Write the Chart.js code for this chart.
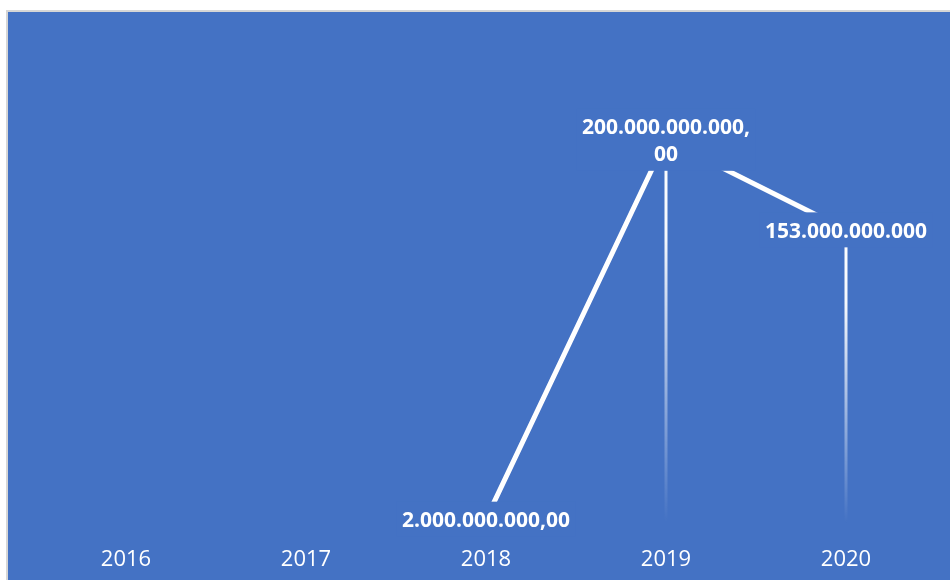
<!DOCTYPE html>
<html>

<head>
    <title>Valores por año</title>
    <script src="https://cdn.jsdelivr.net/npm/chart.js"></script>
    <style>
        body { margin: 0; background: #ffffff; }
        #box {
            position: absolute;
            left: 6px;
            top: 10px;
            width: 942px;
            height: 568px;
            border-top: 2px solid #d6d6d6;
            border-left: 2px solid #d6d6d6;
            background: #4472c4;
        }
    </style>
</head>

<body>
    <div id="box">
        <canvas id="myChart" width="942" height="568"></canvas>
    </div>

    <script>
        // years on the x axis
        const years = ['2016', '2017', '2018', '2019', '2020'];
        // series values (no data for 2016 and 2017)
        const values = [null, null, 2000000000, 200000000000, 153000000000];
        // data labels as written on the chart
        const valueLabels = ['', '', '2.000.000.000,00', '200.000.000.000,\n00', '153.000.000.000'];

        const bg = '#4472c4';
        const font_family = '"Open Sans", "Liberation Sans", sans-serif';

        // vertical drop lines from each point down to the axis, fading out
        const dropLines = {
            id: 'dropLines',
            beforeDatasetsDraw(chart) {
                const ctx = chart.ctx;
                const bottom = chart.chartArea.bottom;
                chart.getDatasetMeta(0).data.forEach(function (pt, i) {
                    if (values[i] === null) return;
                    const grad = ctx.createLinearGradient(0, pt.y, 0, bottom);
                    grad.addColorStop(0, 'rgba(255,255,255,1)');
                    grad.addColorStop(0.25, 'rgba(255,255,255,0.95)');
                    grad.addColorStop(1, 'rgba(255,255,255,0)');
                    ctx.save();
                    ctx.strokeStyle = grad;
                    ctx.lineWidth = 3;
                    ctx.beginPath();
                    ctx.moveTo(pt.x, pt.y);
                    ctx.lineTo(pt.x, bottom);
                    ctx.stroke();
                    ctx.restore();
                });
            }
        };

        // value labels centred on the points, on a box filled with the background
        const pointLabels = {
            id: 'pointLabels',
            afterDatasetsDraw(chart) {
                const ctx = chart.ctx;
                const lineH = 27;
                ctx.save();
                ctx.font = 'bold 21px ' + font_family;
                ctx.textAlign = 'center';
                ctx.textBaseline = 'middle';
                chart.getDatasetMeta(0).data.forEach(function (pt, i) {
                    if (values[i] === null) return;
                    const lines = valueLabels[i].split('\n');
                    const w = Math.max.apply(null, lines.map(l => ctx.measureText(l).width));
                    const h = lines.length * lineH;
                    const top = pt.y - h / 2;
                    ctx.fillStyle = bg;
                    ctx.fillRect(pt.x - w / 2 - 5, top - 4, w + 10, h + 8);
                    ctx.fillStyle = '#ffffff';
                    lines.forEach(function (l, k) {
                        ctx.fillText(l, pt.x, top + lineH * k + lineH / 2 + 2);
                    });
                });
                ctx.restore();
            }
        };

        const config = {
            type: 'line',
            data: {
                labels: years,
                datasets: [{
                    data: values,
                    borderColor: '#ffffff',
                    borderWidth: 5,
                    pointRadius: 0,
                    tension: 0
                }]
            },
            options: {
                responsive: false,
                animation: false,
                layout: {
                    padding: { left: 28, right: 14, top: 32, bottom: 0 }
                },
                scales: {
                    x: {
                        offset: true,
                        grid: { display: false, drawTicks: false },
                        border: { display: false },
                        ticks: {
                            color: '#ffffff',
                            padding: 24,
                            font: { family: font_family, size: 22 }
                        },
                        afterFit: function (scale) { scale.height = 57; }
                    },
                    y: {
                        display: false,
                        min: 0,
                        max: 250000000000
                    }
                },
                plugins: {
                    legend: { display: false },
                    tooltip: { enabled: false }
                }
            },
            plugins: [dropLines, pointLabels]
        };

        var myChart = new Chart(document.getElementById('myChart'), config);
    </script>

</body>

</html>
